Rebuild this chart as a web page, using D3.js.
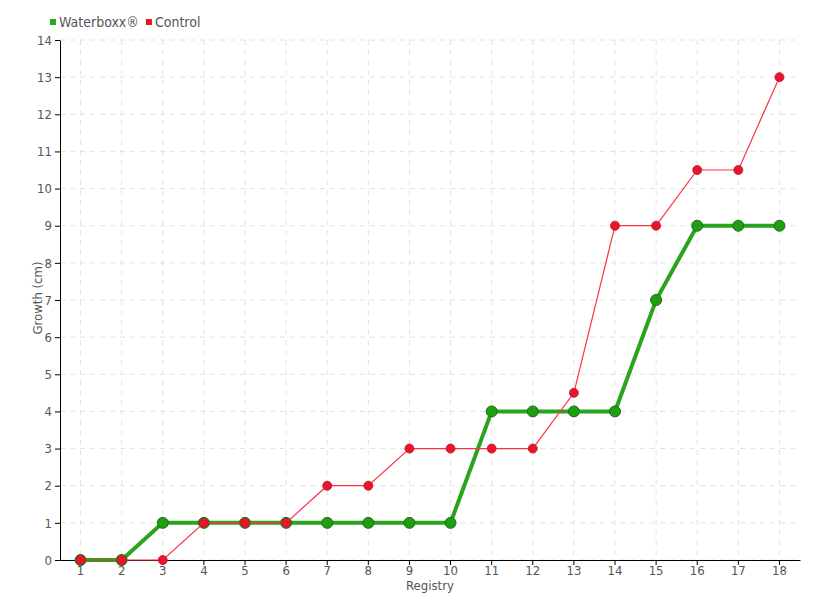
<!DOCTYPE html>
<html><head><meta charset="utf-8">
<script src="https://cdn.jsdelivr.net/npm/d3@7"></script>
<style>
body{margin:0;background:#fff;}
text{font-family:"DejaVu Sans Condensed","DejaVu Sans",sans-serif;font-stretch:condensed;font-weight:300;fill:#555;}
</style></head>
<body><svg id="c" width="820" height="600"></svg>
<script>
const categories = ["1","2","3","4","5","6","7","8","9","10","11","12","13","14","15","16","17","18"];
const waterboxx = [0,0,1,1,1,1,1,1,1,1,4,4,4,4,7,9,9,9];
const control = [0,0,0,1,1,1,2,2,3,3,3,3,4.5,9,9,10.5,10.5,13];
const yTicks = [0,1,2,3,4,5,6,7,8,9,10,11,12,13,14];
const seriesNames = ["Waterboxx®","Control"];

const svg = d3.select("#c");
const L=60,R=800,T=40,B=560;
const x = d3.scaleBand().domain(categories).range([L,R]);
const y = d3.scaleLinear().domain([0,14]).range([B,T]);
const cx = d => x(d)+x.bandwidth()/2;

// grid
const g = svg.append("g");
g.selectAll(".hg").data(yTicks).join("line")
 .attr("x1",L).attr("x2",R).attr("y1",d=>y(d)).attr("y2",d=>y(d))
 .attr("stroke","#e2e2e2").attr("stroke-dasharray","5,5");
g.selectAll(".vg").data(categories).join("line")
 .attr("x1",d=>cx(d)).attr("x2",d=>cx(d)).attr("y1",T).attr("y2",B)
 .attr("stroke","#e2e2e2").attr("stroke-dasharray","5,5");

// axes
const xa = svg.append("g").attr("transform",`translate(0,${B})`)
 .call(d3.axisBottom(x).tickSize(5).tickSizeOuter(0));
const ya = svg.append("g").attr("transform",`translate(${L},0)`)
 .call(d3.axisLeft(y).tickValues(yTicks).tickSize(5).tickSizeOuter(0));
[xa,ya].forEach(a=>{a.select(".domain").attr("stroke","#000");a.selectAll(".tick line").attr("stroke","#000");
 a.selectAll("text").style("font-size","13px").attr("fill","#555");});
xa.selectAll("text").attr("dy","0.5em");

svg.append("text").attr("x",430).attr("y",590).attr("text-anchor","middle").style("font-size","13px").text("Registry");
svg.append("text").attr("transform","translate(42,298) rotate(-90)").attr("text-anchor","middle").style("font-size","13px").text("Growth (cm)");

// series
const line = d3.line().x((d,i)=>cx(categories[i])).y(d=>y(d));
svg.append("path").datum(waterboxx).attr("d",line).attr("fill","none").attr("stroke","#1f9e12").attr("stroke-width",4).attr("opacity",0.95);
svg.selectAll(".gp").data(waterboxx).join("circle").attr("cx",(d,i)=>cx(categories[i])).attr("cy",d=>y(d)).attr("r",5.5)
 .attr("fill","#1f9e12").attr("stroke","#1a6e12").attr("stroke-width",1);
svg.append("path").datum(control).attr("d",line).attr("fill","none").attr("stroke","#ff3040").attr("stroke-width",1.2);
svg.selectAll(".rp").data(control).join("circle").attr("cx",(d,i)=>cx(categories[i])).attr("cy",d=>y(d)).attr("r",4.5)
 .attr("fill","#e8162a").attr("stroke","#c8102a").attr("stroke-width",0.8);

// legend
const lg = svg.append("g");
const colors=["#22aa22","#ee1122"];
let lx=50;
seriesNames.forEach((n,i)=>{
  lg.append("rect").attr("x",lx).attr("y",19).attr("width",6).attr("height",6).attr("fill",colors[i]);
  const t = lg.append("text").attr("x",lx+9).attr("y",27).style("font-size","14px").attr("fill","#555").text(n);
  lx += 9 + t.node().getComputedTextLength() + 7;
});
</script></body></html>
